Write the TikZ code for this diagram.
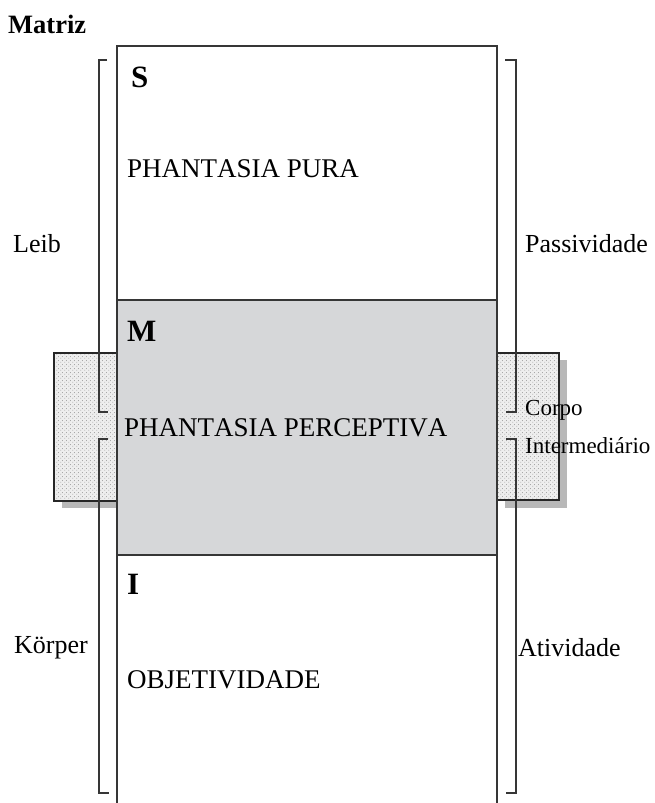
\documentclass[tikz,border=0pt]{standalone}
\usepackage{fontspec}
\setmainfont{Liberation Serif}[Kerning=Off]
\usetikzlibrary{patterns.meta}
\definecolor{linecol}{HTML}{363636}
\definecolor{midgray}{HTML}{D6D7D9}
\definecolor{shadowgray}{HTML}{B8B8B8}
\definecolor{tabbg}{HTML}{EEEEEE}
\tikzdeclarepattern{
  name=stipple,
  type=uncolored,
  bounding box={(0pt,0pt) and (4pt,4pt)},
  tile size={(4pt,4pt)},
  code={
    \fill (1pt,1pt) circle (0.6pt);
    \fill (3pt,3pt) circle (0.6pt);
  }
}
\begin{document}
\begin{tikzpicture}[x=1pt,y=-1pt,
  boxline/.style={draw=linecol, line width=2pt},
  bracketline/.style={draw=linecol, line width=2.1pt},
  tabline/.style={draw=black!85, line width=2.8pt},
  tabfill/.style={pattern=stipple, pattern color=black!40},
  lbl/.style={anchor=base west, inner sep=0pt, font=\fontsize{26}{30}\selectfont},
  capslbl/.style={anchor=base west, inner sep=0pt, font=\fontsize{27}{30}\selectfont},
  smalllbl/.style={anchor=base west, inner sep=0pt, font=\fontsize{23}{26}\selectfont},
  biglbl/.style={anchor=base west, inner sep=0pt, font=\fontsize{31}{34}\selectfont\bfseries},
  titlelbl/.style={anchor=base west, inner sep=0pt, font=\fontsize{26.5}{30}\selectfont\bfseries}]
\useasboundingbox (0,0) rectangle (654,803);
% shadows
\fill[shadowgray] (62,360) rectangle (125,508);
\fill[shadowgray] (505,360) rectangle (567,508);
% tabs
\fill[tabbg] (54,353) rectangle (117,501);
\path[tabfill] (54,353) rectangle (117,501);
\draw[tabline] (54,353) rectangle (117,501);
\fill[tabbg] (497,353) rectangle (559,500);
\path[tabfill] (497,353) rectangle (559,500);
\draw[tabline] (497,353) rectangle (559,500);
% main column
\fill[midgray] (117,300) rectangle (497,555);
\draw[boxline] (117,803) -- (117,46) -- (497,46) -- (497,803);
\draw[boxline] (117,300) -- (497,300);
\draw[boxline] (117,555) -- (497,555);
% brackets
\draw[bracketline] (107,60) -- (99,60) -- (99,412) -- (108,412);
\draw[bracketline] (108,439) -- (99,439) -- (99,793) -- (109,793);
\draw[bracketline] (505,60) -- (516,60) -- (516,412) -- (506,412);
\draw[bracketline] (506,439) -- (516,439) -- (516,793) -- (506,793);
% texts
\node[titlelbl] (matriz) at (8,33) {Matriz};
\node[biglbl] (s) at (131,87) {S};
\node[biglbl] (m) at (127,341) {M};
\node[biglbl] (i) at (127,594) {I};
\node[capslbl] (pura) at (127,177) {PHANTASIA PURA};
\node[capslbl] (perc) at (124,436) {PHANTASIA PERCEPTIVA};
\node[capslbl] (obj) at (127,688) {OBJETIVIDADE};
\node[lbl] (leib) at (13,252) {Leib};
\node[lbl] (pass) at (525,252) {Passividade};
\node[lbl] (korper) at (14,653) {Körper};
\node[lbl] (ativ) at (518,656) {Atividade};
\node[smalllbl] (corpo) at (525,415) {Corpo};
\node[smalllbl] (inter) at (525,453) {Intermediário};
\end{tikzpicture}
\end{document}
